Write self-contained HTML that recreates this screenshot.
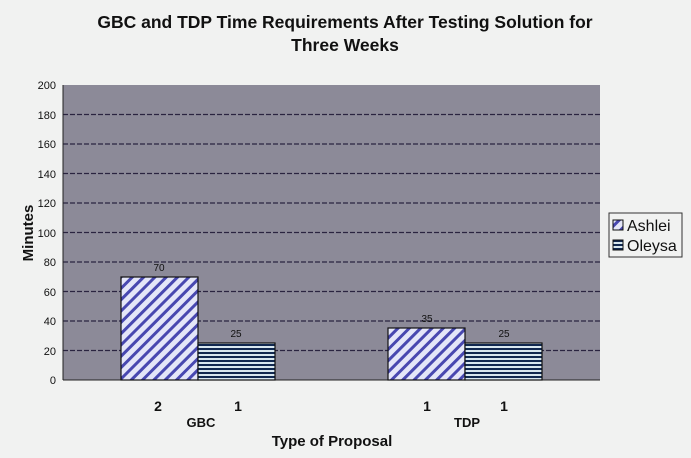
<!DOCTYPE html>
<html><head><style>
body{margin:0;background:#f1f2f1;}
svg{display:block;font-family:"Liberation Sans",Arial,sans-serif;}
</style></head><body>
<svg width="691" height="458" viewBox="0 0 691 458">
<defs>
<pattern id="diag" width="8" height="8" patternUnits="userSpaceOnUse" patternTransform="rotate(45)">
<rect width="8" height="8" fill="#e4e6f8"/><rect width="3" height="8" fill="#4848b0"/>
</pattern>
<pattern id="horiz" width="4" height="4" patternUnits="userSpaceOnUse">
<rect width="4" height="4" fill="#d8e8f0"/><rect width="4" height="2" fill="#102850"/>
</pattern>
</defs>
<rect width="691" height="458" fill="#f1f2f1"/>
<text x="345" y="28" text-anchor="middle" font-size="17.5" font-weight="bold" fill="#111">GBC and TDP Time Requirements After Testing Solution for</text>
<text x="345" y="51" text-anchor="middle" font-size="17.5" font-weight="bold" fill="#111">Three Weeks</text>
<rect x="63" y="85" width="537" height="295" fill="#8c8a98"/>
<g stroke="#2a2440" stroke-dasharray="5,2" stroke-width="1.2">
<line x1="63" x2="600" y1="114.5" y2="114.5"/><line x1="63" x2="600" y1="144" y2="144"/>
<line x1="63" x2="600" y1="173.5" y2="173.5"/><line x1="63" x2="600" y1="203" y2="203"/>
<line x1="63" x2="600" y1="232.5" y2="232.5"/><line x1="63" x2="600" y1="262" y2="262"/>
<line x1="63" x2="600" y1="291.5" y2="291.5"/><line x1="63" x2="600" y1="321" y2="321"/>
<line x1="63" x2="600" y1="350.5" y2="350.5"/>
</g>
<line x1="63" x2="63" y1="85" y2="380" stroke="#222"/>
<line x1="63" x2="600" y1="380" y2="380" stroke="#222"/>
<g font-size="11" fill="#111" text-anchor="end">
<text x="56" y="89">200</text><text x="56" y="119">180</text><text x="56" y="148">160</text>
<text x="56" y="178">140</text><text x="56" y="207">120</text><text x="56" y="237">100</text>
<text x="56" y="266">80</text><text x="56" y="296">60</text><text x="56" y="325">40</text>
<text x="56" y="355">20</text><text x="56" y="384">0</text>
</g>
<g stroke="#111" stroke-width="1.2">
<rect x="121" y="277" width="77" height="103" fill="url(#diag)"/>
<rect x="198" y="343" width="77" height="37" fill="url(#horiz)"/>
<rect x="388" y="328" width="77" height="52" fill="url(#diag)"/>
<rect x="465" y="343" width="77" height="37" fill="url(#horiz)"/>
</g>
<g font-size="10" fill="#111" text-anchor="middle">
<text x="159" y="271">70</text><text x="236" y="337">25</text>
<text x="427" y="322">35</text><text x="504" y="337">25</text>
</g>
<g font-size="14" font-weight="bold" fill="#111" text-anchor="middle">
<text x="158" y="411">2</text><text x="238" y="411">1</text>
<text x="427" y="411">1</text><text x="504" y="411">1</text>
</g>
<g font-size="13" font-weight="bold" fill="#111" text-anchor="middle">
<text x="201" y="427">GBC</text><text x="467" y="427">TDP</text>
</g>
<text x="332" y="446" text-anchor="middle" font-size="15" font-weight="bold" fill="#111">Type of Proposal</text>
<text transform="translate(33,233) rotate(-90)" text-anchor="middle" font-size="15" font-weight="bold" fill="#111">Minutes</text>
<rect x="609" y="213" width="73" height="44" fill="#f1f2f1" stroke="#333"/>
<rect x="613" y="220" width="10" height="10" fill="url(#diag)" stroke="#111"/>
<rect x="613" y="240" width="10" height="10" fill="url(#horiz)" stroke="#111"/>
<text x="627" y="231" font-size="16" fill="#111">Ashlei</text>
<text x="627" y="251" font-size="16" fill="#111">Oleysa</text>
</svg>
</body></html>
